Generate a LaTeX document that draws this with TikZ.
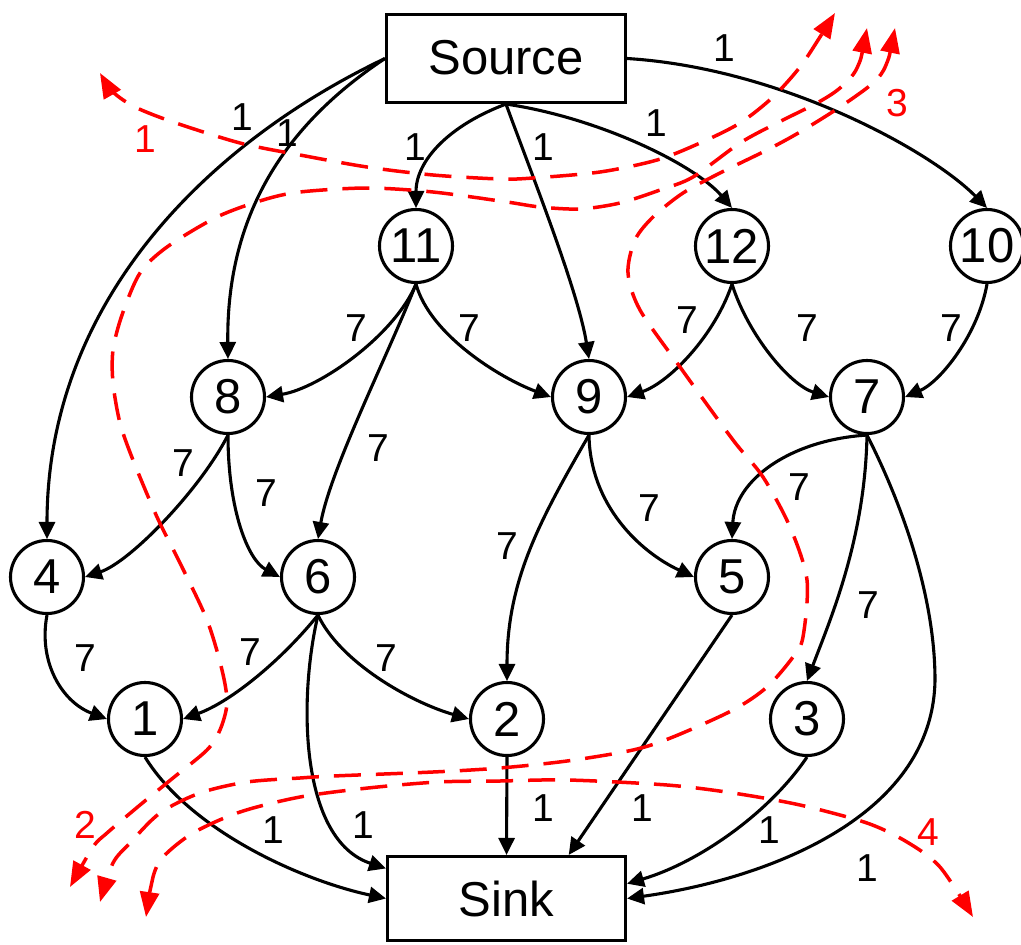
\documentclass[tikz,border=0pt]{standalone}
\usepackage{fontspec}
\setmainfont{Liberation Sans}
\usetikzlibrary{arrows.meta}
\begin{document}
\begin{tikzpicture}[x=1pt,y=-1pt,
  vert/.style={circle,draw,line width=3.1pt,minimum size=73pt,inner sep=0pt,font=\fontsize{49}{49}\selectfont},
  term/.style={rectangle,draw,line width=3.1pt,inner sep=0pt,font=\fontsize{49}{49}\selectfont},
  edge/.style={line width=3.1pt,-{Triangle[length=17pt,width=16pt]}},
  wlab/.style={inner sep=0pt,font=\fontsize{39}{39}\selectfont},
  cutline/.style={red,line width=3.5pt,dash pattern=on 27pt off 15pt,{Triangle[length=25pt,width=19pt]}-{Triangle[length=25pt,width=19pt]}},
  cutlab/.style={wlab,text=red}]
\useasboundingbox (0,0) rectangle (1021,945);
% nodes
\node[term,minimum width=239pt,minimum height=88pt] (S) at (506,58.5) {\raisebox{3pt}{Source}};
\node[term,minimum width=238pt,minimum height=84pt] (Sink) at (506.5,898.5) {Sink};
\node[vert] (n11) at (416,246) {11};
\node[vert] (n12) at (732,246) {12};
\node[vert] (n10) at (987,246) {10};
\node[vert] (n8) at (228,397) {8};
\node[vert] (n9) at (589,397) {9};
\node[vert] (n7) at (867,397) {7};
\node[vert] (n4) at (47,577) {4};
\node[vert] (n6) at (318,577) {6};
\node[vert] (n5) at (732,577) {5};
\node[vert] (n1) at (145,719) {1};
\node[vert] (n2) at (507,719) {2};
\node[vert] (n3) at (807,719) {3};
\coordinate (k19) at (935,680);
% edges
\draw[edge] (S.west) .. controls (210,142) and (47,300) .. (n4.north);
\draw[edge] (S.west) .. controls (300,115) and (226,200) .. (n8.north);
\draw[edge] (S.south) .. controls (450,125) and (416,160) .. (n11.north);
\draw[edge] (S.south) .. controls (530,170) and (578,290) .. (n9.north);
\draw[edge] (S.south) .. controls (600,118) and (695,165) .. (n12.north);
\draw[edge] (S.east) .. controls (780,68) and (930,150) .. (n10.north);
\draw[edge] (n11.south) .. controls (395,335) and (320,388) .. (n8.east);
\draw[edge] (n11.south) .. controls (388,355) and (330,470) .. (n6.north);
\draw[edge] (n11.south) .. controls (430,335) and (500,378) .. (n9.west);
\draw[edge] (n12.south) .. controls (715,335) and (670,382) .. (n9.east);
\draw[edge] (n12.south) .. controls (748,335) and (790,385) .. (n7.west);
\draw[edge] (n10.south) .. controls (978,335) and (940,382) .. (n7.east);
\draw[edge] (n8.south) .. controls (200,490) and (130,562) .. (n4.east);
\draw[edge] (n8.south) .. controls (228,510) and (248,560) .. (n6.west);
\draw[edge] (n9.south) .. controls (540,520) and (507,580) .. (n2.north);
\draw[edge] (n9.south) .. controls (590,505) and (640,552) .. (n5.west);
\draw[edge] (n7.south) .. controls (790,440) and (735,480) .. (n5.north);
\draw[edge] (n7.south) .. controls (865,540) and (830,620) .. (n3.north);
\draw[edge] (n7.south) .. controls (905,510) and (935,600) .. (k19) .. controls (933,820) and (760,880) .. (Sink.east);
\draw[edge] (n4.south) .. controls (38,662) and (62,702) .. (n1.west);
\draw[edge] (n6.south) .. controls (280,662) and (230,702) .. (n1.east);
\draw[edge] (n6.south) .. controls (340,662) and (410,702) .. (n2.west);
\draw[edge] (n6.south) .. controls (298,700) and (300,840) .. (Sink.166);
\draw[edge] (n1.south) .. controls (190,830) and (300,880) .. (Sink.west);
\draw[edge] (n2.south) -- (Sink.north);
\draw[edge] (n5.south) -- (Sink.35);
\draw[edge] (n3.south) .. controls (770,812) and (700,862) .. (Sink.7);
% weight labels
\node[wlab] (w1) at (242,117) {1};
\node[wlab] (w2) at (287,133) {1};
\node[wlab] (w3) at (415,147) {1};
\node[wlab] (w4) at (543,147) {1};
\node[wlab] (w5) at (656,123) {1};
\node[wlab] (w6) at (724,48) {1};
\node[wlab] (w7) at (356,328) {7};
\node[wlab] (w8) at (378,448) {7};
\node[wlab] (w9) at (469,328) {7};
\node[wlab] (w10) at (687,320) {7};
\node[wlab] (w11) at (807,328) {7};
\node[wlab] (w12) at (951,328) {7};
\node[wlab] (w13) at (183,463) {7};
\node[wlab] (w14) at (266,493) {7};
\node[wlab] (w15) at (507,546) {7};
\node[wlab] (w16) at (649,508) {7};
\node[wlab] (w17) at (799,487) {7};
\node[wlab] (w18) at (868,605) {7};
\node[wlab] (w19) at (867,868) {1};
\node[wlab] (w20) at (85,658) {7};
\node[wlab] (w21) at (250,652) {7};
\node[wlab] (w22) at (386,658) {7};
\node[wlab] (w23) at (363,825) {1};
\node[wlab] (w24) at (273,830) {1};
\node[wlab] (w25) at (543,808) {1};
\node[wlab] (w26) at (642,808) {1};
\node[wlab] (w27) at (769,830) {1};
% red cut curves
\draw[cutline] plot[smooth] coordinates {(100,73) (113,92) (135,107) (173,122) (240,143) (300,155) (367,167) (433,175) (500,179) (533,178) (600,172) (657,160) (700,143) (740,123) (773,97) (800,67) (820,37) (835,13)};
\draw[cutline] plot[smooth] coordinates {(867,28) (857,68) (840,88) (817,103) (777,123) (740,143) (693,177) (660,190) (620,203) (580,209) (540,207) (507,202) (433,192) (367,188) (300,192) (263,200) (217,217) (167,247) (140,273) (122,315) (113,350) (113,383) (120,423) (133,460) (157,517) (180,563) (207,620) (222,670) (227,703) (220,730) (207,750) (173,778) (140,805) (107,833) (93,847) (70,887)};
\draw[cutline] plot[smooth] coordinates {(895,28) (886,65) (873,83) (840,107) (800,132) (767,150) (720,173) (683,193) (653,217) (635,240) (628,273) (640,310) (680,367) (733,440) (763,477) (790,527) (807,580) (803,637) (793,657) (767,687) (733,710) (673,737) (633,750) (567,761) (500,768) (433,772) (333,776) (300,778) (247,782) (200,793) (160,813) (130,843) (113,863) (100,902)};
\draw[cutline] plot[smooth] coordinates {(146,917) (153,877) (163,857) (193,833) (240,812) (300,797) (368,788) (438,782) (500,781) (568,780) (667,785) (733,793) (800,805) (867,823) (907,842) (940,867) (973,917)};
\node[cutlab] (c1) at (145,139) {1};
\node[cutlab] (c2) at (85,825) {2};
\node[cutlab] (c3) at (897,103) {3};
\node[cutlab] (c4) at (928,832) {4};
\end{tikzpicture}
\end{document}
